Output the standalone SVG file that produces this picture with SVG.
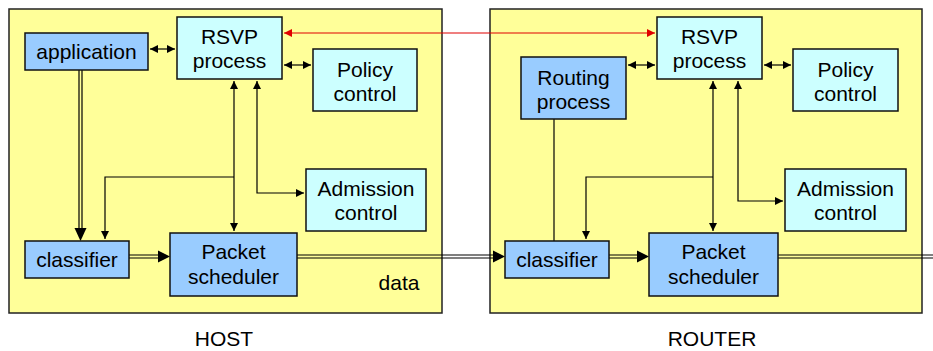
<svg xmlns="http://www.w3.org/2000/svg" width="933" height="351" viewBox="0 0 933 351">
<style>
.box{fill:#FFFF99;stroke:#222;stroke-width:1.5}
.c{fill:#CCFFFF;stroke:#111;stroke-width:1.5}
.b{fill:#99CCFF;stroke:#111;stroke-width:1.5}
text{font-family:"Liberation Sans",Arial,sans-serif;font-size:21px;fill:#000;text-anchor:middle}
.ln{fill:none;stroke:#000;stroke-width:1.2}
.dl{fill:none;stroke:#000;stroke-width:1.2}
.red{fill:none;stroke:#E00000;stroke-width:1.2}
</style>
<defs>
<marker id="a" markerUnits="userSpaceOnUse" markerWidth="9" markerHeight="8" refX="8" refY="4" orient="auto-start-reverse"><path d="M0,0 L8,4 L0,8 z" fill="#000"/></marker>
<marker id="r" markerUnits="userSpaceOnUse" markerWidth="9" markerHeight="8" refX="8" refY="4" orient="auto-start-reverse"><path d="M0,0 L8,4 L0,8 z" fill="#E00000"/></marker>
</defs>
<g id="host"><rect class="box" x="9" y="9" width="433" height="304"/><text x="399" y="290">data</text><text x="224" y="346">HOST</text></g>
<g id="router"><rect class="box" x="490" y="9" width="432" height="304"/><text x="712" y="346">ROUTER</text></g>
<g id="connectors">
<path class="ln" d="M150,49 H175" marker-start="url(#a)" marker-end="url(#a)"/>
<path class="ln" d="M284,65 H311" marker-start="url(#a)" marker-end="url(#a)"/>
<path class="ln" d="M234,81 V231" marker-start="url(#a)" marker-end="url(#a)"/>
<path class="ln" d="M234,177 H105 V239" marker-end="url(#a)"/>
<path class="ln" d="M257,81 V193 H304" marker-start="url(#a)" marker-end="url(#a)"/>
<path class="dl" d="M79,70 V229 M82,70 V229"/>
<path d="M74.5,228 H86.5 L80.5,241 z" fill="#000"/>
<path class="dl" d="M129,255 H159 M129,258 H159"/>
<path d="M158,250.5 L170,256.5 L158,262.5 z" fill="#000"/>
<path class="dl" d="M297,255 H494 M297,258 H494"/>
<path d="M493,250.5 L505,256.5 L493,262.5 z" fill="#000"/>
<path class="dl" d="M609,255 H638 M609,258 H638"/>
<path d="M637,250.5 L649,256.5 L637,262.5 z" fill="#000"/>
<path class="dl" d="M778,255 H933 M778,258 H933"/>
<path class="red" d="M284,33 H655" marker-start="url(#r)" marker-end="url(#r)"/>
<path class="ln" d="M628,65 H655" marker-start="url(#a)" marker-end="url(#a)"/>
<path class="ln" d="M764,65 H791" marker-start="url(#a)" marker-end="url(#a)"/>
<path class="ln" d="M713,81 V231" marker-start="url(#a)" marker-end="url(#a)"/>
<path class="ln" d="M713,177 H586 V239" marker-end="url(#a)"/>
<path class="ln" d="M738,81 V201 H783" marker-start="url(#a)" marker-end="url(#a)"/>
<path class="ln" d="M554,119 V241"/>
</g>
<g id="application"><rect class="b" x="25" y="33" width="123" height="37"/><text x="86.5" y="59">application</text></g>
<g id="rsvp-host"><rect class="c" x="177" y="17" width="105" height="62"/><text x="229.5" y="44">RSVP</text><text x="229.5" y="68">process</text></g>
<g id="policy-host"><rect class="c" x="313" y="49" width="104" height="62"/><text x="365" y="77">Policy</text><text x="365" y="101">control</text></g>
<g id="admission-host"><rect class="c" x="306" y="169" width="120" height="62"/><text x="366" y="196">Admission</text><text x="366" y="220">control</text></g>
<g id="classifier-host"><rect class="b" x="25" y="241" width="104" height="37"/><text x="77" y="267">classifier</text></g>
<g id="scheduler-host"><rect class="b" x="170" y="233" width="127" height="63"/><text x="233.5" y="259">Packet</text><text x="233.5" y="284">scheduler</text></g>
<g id="routing"><rect class="b" x="521" y="57" width="105" height="62"/><text x="573.5" y="85">Routing</text><text x="573.5" y="109">process</text></g>
<g id="rsvp-router"><rect class="c" x="657" y="17" width="105" height="62"/><text x="709.5" y="44">RSVP</text><text x="709.5" y="68">process</text></g>
<g id="policy-router"><rect class="c" x="793" y="49" width="105" height="62"/><text x="845.5" y="77">Policy</text><text x="845.5" y="101">control</text></g>
<g id="admission-router"><rect class="c" x="785" y="169" width="121" height="62"/><text x="845.5" y="196">Admission</text><text x="845.5" y="220">control</text></g>
<g id="classifier-router"><rect class="b" x="505" y="241" width="104" height="37"/><text x="557" y="267">classifier</text></g>
<g id="scheduler-router"><rect class="b" x="649" y="233" width="129" height="63"/><text x="713.5" y="259">Packet</text><text x="713.5" y="284">scheduler</text></g>
</svg>
